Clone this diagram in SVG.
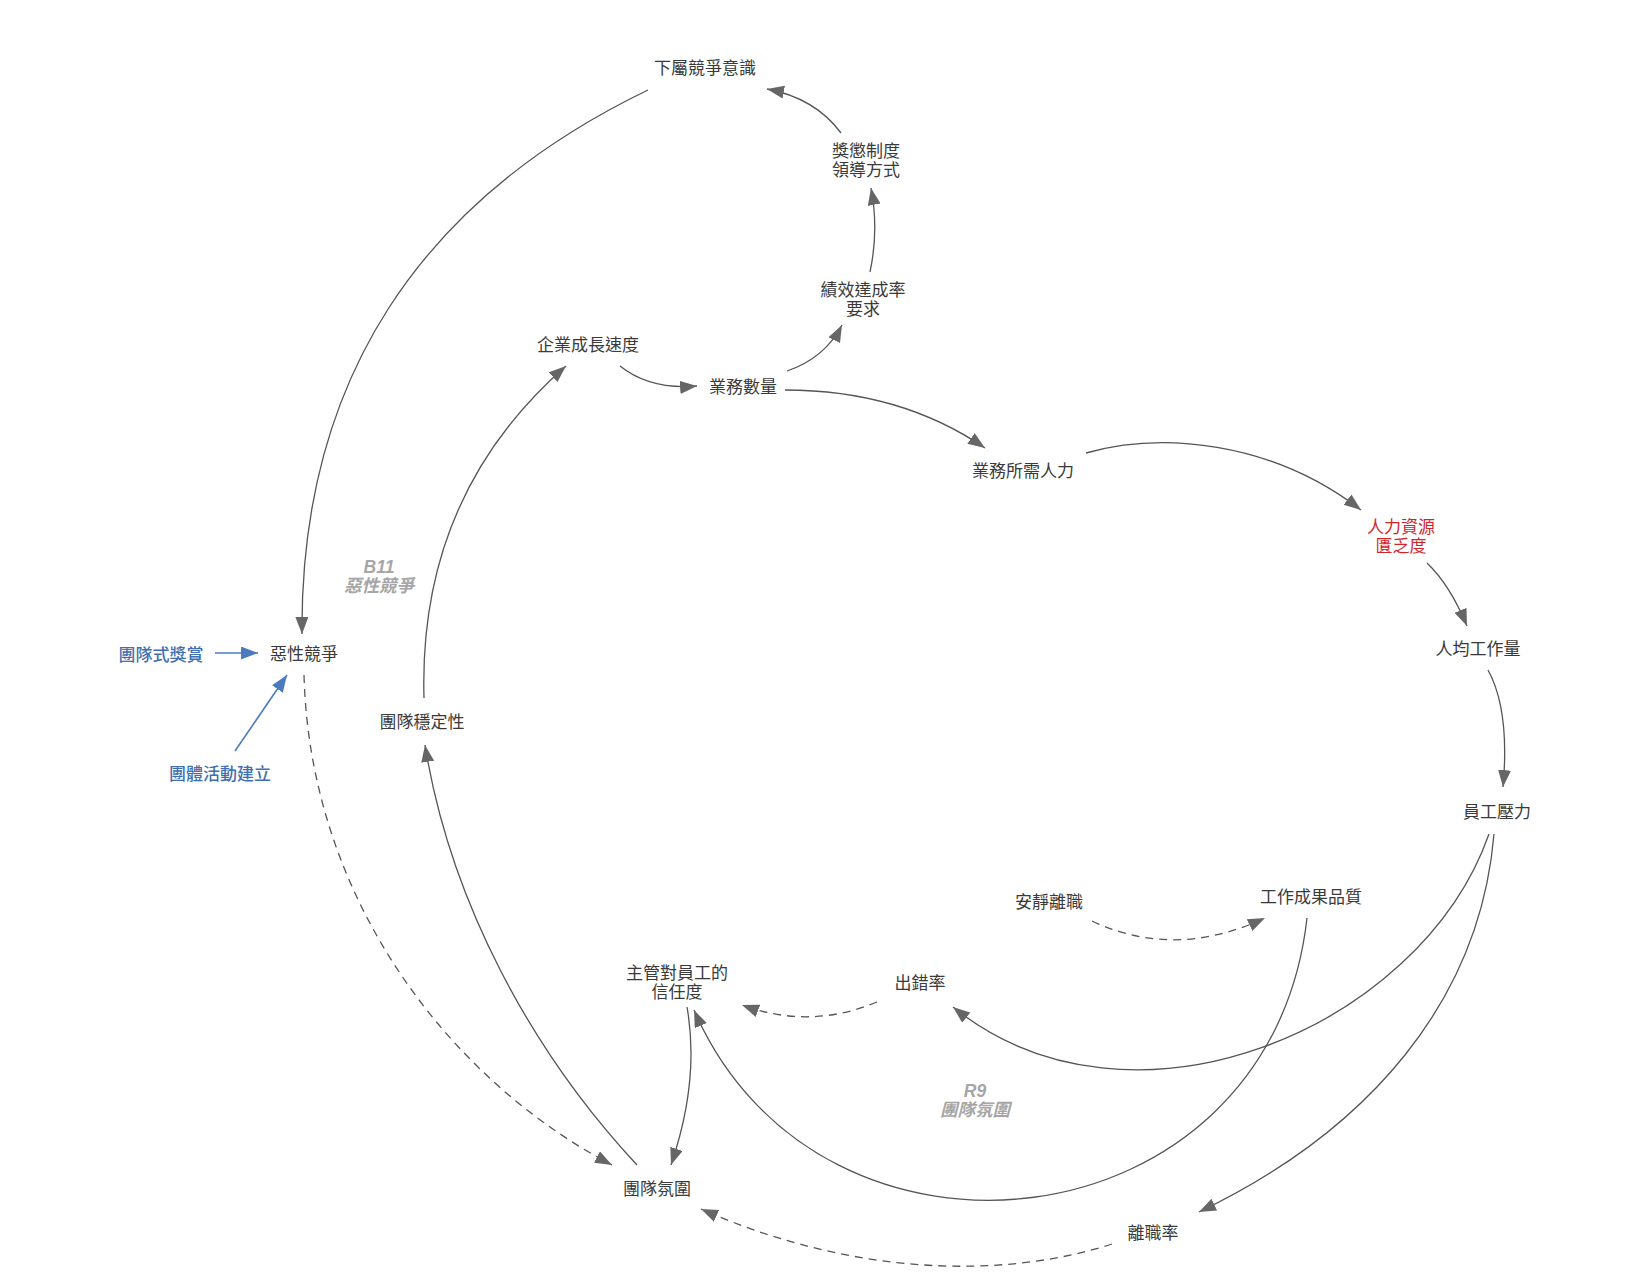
<svg xmlns="http://www.w3.org/2000/svg" width="1642" height="1288" viewBox="0 0 1642 1288">
<style>
.n{font-family:"Noto Sans CJK TC","Noto Sans CJK SC",sans-serif;font-size:17px;fill:#3a3a3a;text-anchor:middle;dominant-baseline:central}
.red{fill:#d0262b}
.blue{fill:#3f6fb0;font-weight:500}
.loop{font-family:"Liberation Sans","Noto Sans CJK TC",sans-serif;font-size:17.5px;fill:#a6a6a6;font-weight:bold;font-style:italic;text-anchor:middle;dominant-baseline:central}
.e{fill:none;stroke:#555;stroke-width:1.3}
.d{stroke-dasharray:8,6}
.b{fill:none;stroke:#4a7bbf;stroke-width:1.6}
</style>
<defs>
<marker id="a" markerUnits="userSpaceOnUse" markerWidth="18" markerHeight="14" refX="17" refY="6.5" orient="auto"><path d="M0,0 L17,6.5 L0,13 z" fill="#666"/></marker>
<marker id="ab" markerUnits="userSpaceOnUse" markerWidth="18" markerHeight="14" refX="17" refY="6.5" orient="auto"><path d="M0,0 L17,6.5 L0,13 z" fill="#4a7bbf"/></marker>
</defs>
<rect width="1642" height="1288" fill="#fff"/>
<g id="connectors">
<path class="e" marker-end="url(#a)" d="M648,90 C420,200 300,380 302,634"/>
<path class="e" marker-end="url(#a)" d="M841,133 Q815,98 767,89"/>
<path class="e" marker-end="url(#a)" d="M870,272 Q879,230 871,188"/>
<path class="e" marker-end="url(#a)" d="M787,371 Q825,358 842,325"/>
<path class="e" marker-end="url(#a)" d="M620,366 Q650,390 697,386"/>
<path class="e" marker-end="url(#a)" d="M785,390 Q900,390 985,448"/>
<path class="e" marker-end="url(#a)" d="M1086,453 C1160,432 1270,440 1361,510"/>
<path class="e" marker-end="url(#a)" d="M1427,563 Q1450,585 1467,626"/>
<path class="e" marker-end="url(#a)" d="M1488,670 Q1510,710 1503,787"/>
<path class="e" marker-end="url(#a)" d="M1489,834 C1420,1030 1130,1150 953,1007"/>
<path class="e" marker-end="url(#a)" d="M1494,834 C1480,1000 1370,1130 1199,1212"/>
<path class="e" marker-end="url(#a)" d="M1307,918 C1270,1250 820,1300 694,1010"/>
<path class="e" marker-end="url(#a)" d="M687,1007 Q700,1080 671,1165"/>
<path class="e d" marker-end="url(#a)" d="M877,1002 Q810,1030 742,1005"/>
<path class="e d" marker-end="url(#a)" d="M1092,921 Q1175,960 1265,918"/>
<path class="e d" marker-end="url(#a)" d="M1112,1244 C1000,1280 850,1275 701,1209"/>
<path class="e d" marker-end="url(#a)" d="M304,675 C310,900 450,1080 612,1165"/>
<path class="e" marker-end="url(#a)" d="M637,1165 C530,1050 450,900 425,745"/>
<path class="e" marker-end="url(#a)" d="M424,698 C420,560 470,450 566,366"/>
<path class="b" marker-end="url(#ab)" d="M215,653 L258,653"/>
<path class="b" marker-end="url(#ab)" d="M235,751 L287,675"/>
</g>
<g id="n-xiashu"><text class="n" x="705" y="66">下屬競爭意識</text></g>
<g id="n-jiangcheng"><text class="n" x="866" y="149">獎懲制度<tspan x="866" dy="19">領導方式</tspan></text></g>
<g id="n-jixiao"><text class="n" x="863" y="288">績效達成率<tspan x="863" dy="19">要求</tspan></text></g>
<g id="n-qiye"><text class="n" x="588" y="343">企業成長速度</text></g>
<g id="n-yewu"><text class="n" x="743" y="385">業務數量</text></g>
<g id="n-renli"><text class="n" x="1023" y="469">業務所需人力</text></g>
<g id="n-kuifa"><text class="n red" x="1401" y="525">人力資源<tspan x="1401" dy="19">匱乏度</tspan></text></g>
<g id="n-renjun"><text class="n" x="1478" y="647">人均工作量</text></g>
<g id="n-yali"><text class="n" x="1497" y="810">員工壓力</text></g>
<g id="n-pinzhi"><text class="n" x="1311" y="895">工作成果品質</text></g>
<g id="n-anjing"><text class="n" x="1049" y="900">安靜離職</text></g>
<g id="n-chucuo"><text class="n" x="920" y="981">出錯率</text></g>
<g id="n-xinren"><text class="n" x="677" y="971">主管對員工的<tspan x="677" dy="19">信任度</tspan></text></g>
<g id="n-fenwei"><text class="n" x="657" y="1187">團隊氛圍</text></g>
<g id="n-lizhi"><text class="n" x="1153" y="1231">離職率</text></g>
<g id="n-wending"><text class="n" x="422" y="720">團隊穩定性</text></g>
<g id="n-exing"><text class="n" x="304" y="652">惡性競爭</text></g>
<g id="n-jiangshang"><text class="n blue" x="161" y="653">團隊式獎賞</text></g>
<g id="n-huodong"><text class="n blue" x="220" y="772">團體活動建立</text></g>
<g id="loop-b11"><text class="loop" x="379" y="567">B11<tspan x="379" dy="19">惡性競爭</tspan></text></g>
<g id="loop-r9"><text class="loop" x="975" y="1091">R9<tspan x="975" dy="19">團隊氛圍</tspan></text></g>
</svg>
